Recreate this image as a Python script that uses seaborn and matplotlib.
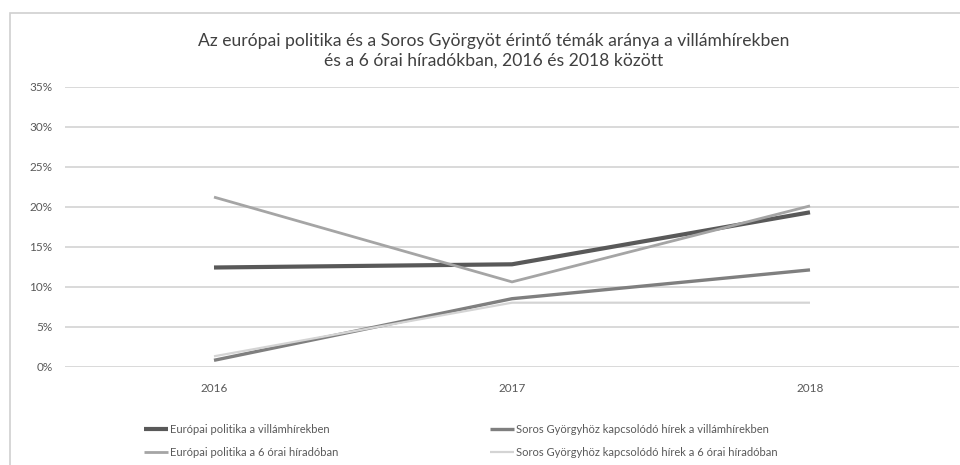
import matplotlib
matplotlib.use("Agg")
import matplotlib.pyplot as plt
from matplotlib.patches import Rectangle
import seaborn as sns
import pandas as pd

years = ["2016", "2017", "2018"]
series_names = [
    "Európai politika a villámhírekben",
    "Európai politika a 6 órai híradóban",
    "Soros Györgyhöz kapcsolódó hírek a villámhírekben",
    "Soros Györgyhöz kapcsolódó hírek a 6 órai híradóban",
]
euro_flash = [12.4, 12.8, 19.3]
euro_news6 = [21.2, 10.6, 20.1]
soros_flash = [0.8, 8.5, 12.1]
soros_news6 = [1.3, 8.0, 8.0]
y_ticks = [0, 5, 10, 15, 20, 25, 30, 35]
title = ("Az európai politika és a Soros Györgyöt érintő témák aránya a villámhírekben\n"
         "és a 6 órai híradókban, 2016 és 2018 között")

colors = ["#595959", "#a5a5a5", "#7f7f7f", "#d4d4d4"]
widths = [3.0, 2.0, 2.4, 1.6]

sns.set_theme(style="white")
plt.rcParams["font.family"] = ["Lato", "DejaVu Sans"]

rows = []
for name, vals in zip(series_names, [euro_flash, euro_news6, soros_flash, soros_news6]):
    for y, v in zip(years, vals):
        rows.append({"év": y, "arány": v, "sorozat": name})
df = pd.DataFrame(rows)

fig = plt.figure(figsize=(9.6, 4.65), dpi=100)
ax = fig.add_axes([65 / 960, 1 - 366.7 / 465, 894 / 960, 280 / 465])

# chart frame
fig.patches.append(Rectangle((10 / 960, -0.1), 1.2, 1 - 13 / 465 + 0.1,
                             transform=fig.transFigure, fill=False,
                             edgecolor="#d0d0d0", linewidth=1.2, zorder=0))

sns.lineplot(data=df, x="év", y="arány", hue="sorozat", hue_order=series_names,
             palette=colors, sort=False, legend=False, ax=ax)
for line, lw in zip(ax.get_lines(), widths):
    line.set_linewidth(lw)
    line.set_solid_capstyle("butt")

ax.set_xlim(-0.5, 2.5)
ax.set_ylim(0, 35)
ax.set_yticks(y_ticks)
ax.set_yticklabels([f"{t}%" for t in y_ticks])
ax.yaxis.grid(True, color="#d9d9d9", linewidth=1.4)
ax.set_axisbelow(True)
for s in ax.spines.values():
    s.set_visible(False)
ax.tick_params(axis="both", length=0, labelsize=8.5, colors="#595959")
ax.tick_params(axis="y", pad=9)
ax.tick_params(axis="x", pad=12)
ax.set_xlabel("")
ax.set_ylabel("")

fig.text(494 / 960, 1 - 51 / 465, title, ha="center", va="center",
         fontsize=12.6, color="#404040", linespacing=1.25)

handles = ax.get_lines()[:4]
fig.legend(handles, series_names, ncol=2, loc="center left",
           bbox_to_anchor=(134 / 960, 1 - 441 / 465), frameon=False,
           fontsize=8, labelcolor="#595959", handlelength=2.2,
           handletextpad=0.15, columnspacing=13.6, labelspacing=1.1)

fig.savefig("out.png", dpi=100, facecolor="white")
